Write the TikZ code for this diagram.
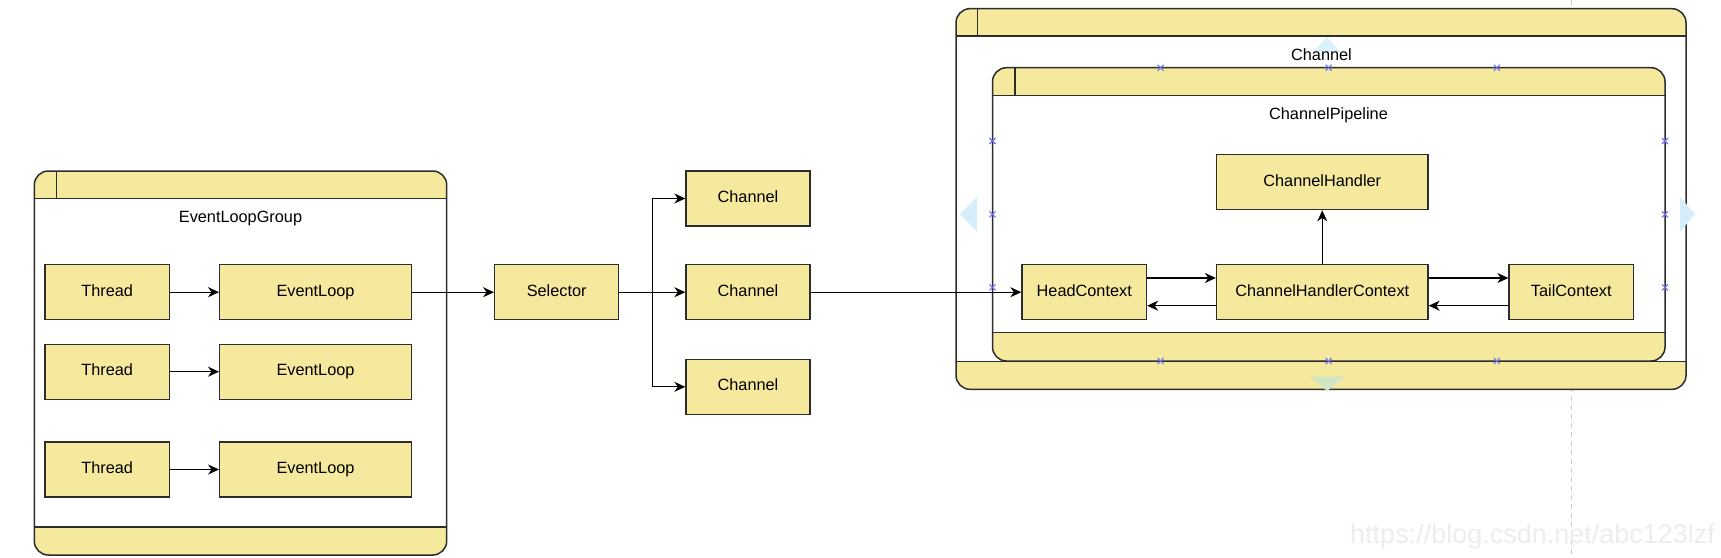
\documentclass[tikz,border=0pt]{standalone}
\usepackage{fontspec}
\setmainfont{Liberation Sans}
\usetikzlibrary{arrows.meta}
\definecolor{boxfill}{RGB}{245,233,157}
\definecolor{boxline}{RGB}{45,45,45}
\definecolor{handle}{RGB}{110,110,255}
\definecolor{tri}{RGB}{212,238,251}
\definecolor{trigreen}{RGB}{208,230,196}
\newcommand\swimlanebox[7]{%
  \fill[boxfill, rounded corners=14pt] (#1,#2) rectangle (#3,#4);
  \fill[white] (#1,#5) rectangle (#3,#6);
  \draw[cont] (#1,#5) -- (#3,#5);
  \draw[cont] (#1,#6) -- (#3,#6);
  \draw[cont] (#7,#2) -- (#7,#5);
  \draw[cont, rounded corners=14pt] (#1,#2) rectangle (#3,#4);
}
\newcommand\xmk[2]{\draw[xmark] (#1-3,#2-3) -- (#1+3,#2+3) (#1-3,#2+3) -- (#1+3,#2-3);}
\tikzset{
  blk/.style={draw=boxline, fill=boxfill, line width=1.3pt, minimum height=55pt, inner sep=0pt,
    text height=11.7pt, text depth=3.4pt, font=\fontsize{16.3}{19}\selectfont},
  conn/.style={draw=black, line width=1.3pt, -{Stealth[length=11pt,width=10pt,inset=3.5pt]}},
  ttl/.style={font=\fontsize{16.3}{19}\selectfont, inner sep=0pt, text height=11.7pt, text depth=3.4pt},
  cont/.style={draw=boxline, line width=1.5pt},
  xmark/.style={draw=handle, line width=1.1pt},
  trishape/.style={fill=tri, draw=none},
}
\begin{document}
\begin{tikzpicture}[x=1pt,y=-1pt]
\useasboundingbox (0,0) rectangle (1721,557);
\fill[white] (0,0) rectangle (1721,557);
% guide line
\draw[gray!40, line width=1pt, dash pattern=on 5pt off 4pt] (1571.7,0) -- (1571.7,557);
% containers
\swimlanebox{34.3}{171}{446.7}{555}{198.7}{527}{56.3}
\swimlanebox{956}{8.7}{1686}{389.3}{36}{361.7}{977.5}
\swimlanebox{992.5}{67.7}{1665}{361}{95.7}{332.7}{1015}
% selection triangles
\fill[trishape, opacity=0.8] (1327,37) -- (1341,52) -- (1313,52) -- cycle;
\fill[trishape] (960,214) -- (977,197) -- (977,232) -- cycle;
\fill[trishape] (1695,214) -- (1680,197) -- (1680,232) -- cycle;
\fill[trigreen] (1327,391) -- (1345,376.7) -- (1310,376.7) -- cycle;
% titles
\node[ttl] (elgt) at (240.5,218.3) {EventLoopGroup};
\node[ttl] (cht) at (1321.5,56) {Channel};
\node[ttl] (cpt) at (1328.5,115.7) {ChannelPipeline};
% handles
\xmk{1160.6}{67.7}\xmk{1328.7}{67.7}\xmk{1496.9}{67.7}
\xmk{1160.6}{361}\xmk{1328.7}{361}\xmk{1496.9}{361}
\xmk{992.5}{141}\xmk{992.5}{214.3}\xmk{992.5}{287.3}
\xmk{1665}{141}\xmk{1665}{214.3}\xmk{1665}{287.3}
% nodes
\node[blk, minimum width=124.3pt] (t1) at (107.2,292.2) {Thread};
\node[blk, minimum width=124.3pt] (t2) at (107.2,371.7) {Thread};
\node[blk, minimum width=124.3pt] (t3) at (107.2,469.5) {Thread};
\node[blk, minimum width=191.6pt] (e1) at (315.5,292.2) {EventLoop};
\node[blk, minimum width=191.6pt] (e2) at (315.5,371.7) {EventLoop};
\node[blk, minimum width=191.6pt] (e3) at (315.5,469.5) {EventLoop};
\node[blk, minimum width=124pt] (sel) at (556.7,292.2) {Selector};
\node[blk, minimum width=124pt] (c1) at (748,198.5) {Channel};
\node[blk, minimum width=124pt] (c2) at (748,292.2) {Channel};
\node[blk, minimum width=124pt] (c3) at (748,386.8) {Channel};
\node[blk, minimum width=124.5pt] (head) at (1084.25,292.2) {HeadContext};
\node[blk, minimum width=211.5pt] (chc) at (1322.25,292.2) {ChannelHandlerContext};
\node[blk, minimum width=124.5pt] (tail) at (1571.25,292.2) {TailContext};
\node[blk, minimum width=211.5pt, minimum height=55.4pt] (hdl) at (1322.25,182) {ChannelHandler};
% connectors
\draw[conn] (t1) -- (e1);
\draw[conn] (t2) -- (e2);
\draw[conn] (t3) -- (e3);
\draw[conn] (e1) -- (sel);
\coordinate (br) at (652.7,292.2);
\draw[conn] (sel.east) -- (br) |- (c1.west);
\draw[conn] (sel) -- (c2);
\draw[conn] (br) |- (c3.west);
\draw[conn] (c2) -- (head);
\draw[conn] ([yshift=14.2pt]head.east) -- ([yshift=14.2pt]chc.west);
\draw[conn] ([yshift=-13.5pt]chc.west) -- ([yshift=-13.5pt]head.east);
\draw[conn] ([yshift=14.2pt]chc.east) -- ([yshift=14.2pt]tail.west);
\draw[conn] ([yshift=-13.5pt]tail.west) -- ([yshift=-13.5pt]chc.east);
\draw[conn] (chc) -- (hdl);
% watermark
\node[anchor=base west, text=gray!14, font=\fontsize{27}{30}\selectfont, inner sep=0pt] (wm) at (1350,543) {https://blog.csdn.net/abc123lzf};
\end{tikzpicture}
\end{document}
